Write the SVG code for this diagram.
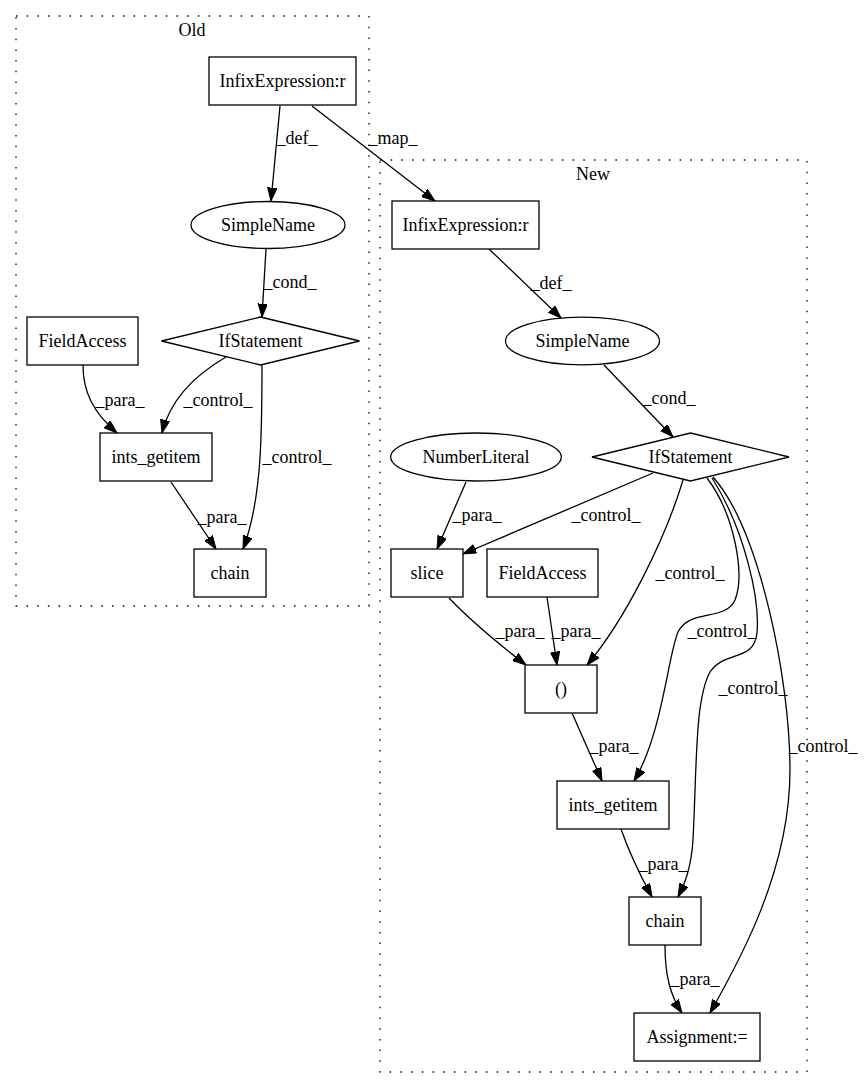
<svg xmlns="http://www.w3.org/2000/svg" width="864" height="1088" viewBox="0 0 864 1088">
<defs>
<marker id="ah" markerWidth="14" markerHeight="10" refX="13.3" refY="4.67" orient="auto" markerUnits="userSpaceOnUse">
<path d="M0,0 L13.3,4.67 L0,9.33 Z" fill="#000" stroke="#000" stroke-width="1"/>
</marker>
</defs>
<style>
text{font-family:"Liberation Serif","Times New Roman",serif;font-size:18px;fill:#000}
.n{text-anchor:middle}
.l{text-anchor:middle}
.box{fill:#fff;stroke:#000;stroke-width:1.3}
.cl{fill:none;stroke:#000;stroke-width:1.3;stroke-dasharray:1.5,9.2}
.e path{fill:none;stroke:#000;stroke-width:1.3;marker-end:url(#ah)}
</style>
<rect width="864" height="1088" fill="#fff"/>
<g id="cluster_old">
<rect class="cl" x="16" y="16" width="353" height="590"/>
<text class="n" x="192" y="36">Old</text>
</g>
<g id="cluster_new">
<rect class="cl" x="380" y="160" width="427" height="912"/>
<text class="n" x="593" y="180">New</text>
</g>
<g class="e" id="edges">
<path d="M280,106 L271,201"/>
<path d="M312,106 L435,201"/>
<path d="M266,249 L262,317"/>
<path d="M83,365 C83,392 93,412 117,433"/>
<path d="M226,357 C195,375 170,400 162,433"/>
<path d="M262,365 C262,430 262,500 243,549"/>
<path d="M171,482 L216,549"/>
<path d="M489,249 L561,318"/>
<path d="M604,365 L673,437"/>
<path d="M466,482 L437,549"/>
<path d="M653,473 L463,554"/>
<path d="M449,598 C472,622 500,645 526,665"/>
<path d="M547,597 L557,665"/>
<path d="M683,480 C665,540 625,620 587,665"/>
<path d="M707,478 C735,515 745,575 735,600 C725,622 690,608 678,632 C668,655 662,735 634,781"/>
<path d="M712,478 C745,530 760,600 757,633 C754,662 725,650 710,672 C695,700 697,760 693,840 C691,870 684,885 678,897"/>
<path d="M713,477 C760,530 790,680 790,770 C790,870 740,960 710,1013"/>
<path d="M572,713 L602,781"/>
<path d="M621,829 C630,855 640,875 652,897"/>
<path d="M665,945 C665,975 670,995 682,1013"/>
</g>
<g id="edge_labels">
<text class="l" x="297" y="144">_def_</text>
<text class="l" x="393" y="144">_map_</text>
<text class="l" x="290" y="288">_cond_</text>
<text class="l" x="120" y="406">_para_</text>
<text class="l" x="218" y="406">_control_</text>
<text class="l" x="297" y="463">_control_</text>
<text class="l" x="222" y="523">_para_</text>
<text class="l" x="551" y="289">_def_</text>
<text class="l" x="669" y="404">_cond_</text>
<text class="l" x="477" y="521">_para_</text>
<text class="l" x="606" y="521">_control_</text>
<text class="l" x="520" y="637">_para_</text>
<text class="l" x="576" y="637">_para_</text>
<text class="l" x="690" y="579">_control_</text>
<text class="l" x="722" y="637">_control_</text>
<text class="l" x="753" y="694">_control_</text>
<text class="l" x="823" y="752">_control_</text>
<text class="l" x="614" y="752">_para_</text>
<text class="l" x="663" y="870">_para_</text>
<text class="l" x="695" y="985">_para_</text>
</g>
<g id="old_infix"><rect class="box" x="209" y="57" width="147" height="48"/><text class="n" x="282.5" y="87">InfixExpression:r</text></g>
<g id="old_simplename"><ellipse class="box" cx="268" cy="225" rx="77" ry="23.5"/><text class="n" x="268" y="231">SimpleName</text></g>
<g id="old_if"><polygon class="box" points="260.5,317 359.5,341 260.5,365 161.5,341"/><text class="n" x="260.5" y="347">IfStatement</text></g>
<g id="old_fieldaccess"><rect class="box" x="27" y="317" width="111" height="48"/><text class="n" x="82.5" y="347">FieldAccess</text></g>
<g id="old_ints_getitem"><rect class="box" x="100" y="433" width="112" height="48"/><text class="n" x="156" y="463">ints_getitem</text></g>
<g id="old_chain"><rect class="box" x="194" y="549" width="72" height="48"/><text class="n" x="230" y="579">chain</text></g>
<g id="new_infix"><rect class="box" x="392" y="201" width="147" height="48"/><text class="n" x="465.5" y="231">InfixExpression:r</text></g>
<g id="new_simplename"><ellipse class="box" cx="582.5" cy="341" rx="77" ry="23.8"/><text class="n" x="582.5" y="347">SimpleName</text></g>
<g id="new_if"><polygon class="box" points="690.5,433 789,457 690.5,481 592,457"/><text class="n" x="690.5" y="463">IfStatement</text></g>
<g id="new_numberliteral"><ellipse class="box" cx="476" cy="457" rx="85.3" ry="24"/><text class="n" x="476" y="463">NumberLiteral</text></g>
<g id="new_slice"><rect class="box" x="391" y="549" width="72" height="48"/><text class="n" x="427" y="579">slice</text></g>
<g id="new_fieldaccess"><rect class="box" x="487" y="549" width="111" height="48"/><text class="n" x="542.5" y="579">FieldAccess</text></g>
<g id="new_paren"><rect class="box" x="525" y="665" width="72" height="48"/><text class="n" x="561" y="695">()</text></g>
<g id="new_ints_getitem"><rect class="box" x="557" y="781" width="112" height="48"/><text class="n" x="613" y="811">ints_getitem</text></g>
<g id="new_chain"><rect class="box" x="629" y="897" width="72" height="48"/><text class="n" x="665" y="927">chain</text></g>
<g id="new_assignment"><rect class="box" x="634" y="1013" width="126" height="48"/><text class="n" x="697" y="1043">Assignment:=</text></g>
</svg>
